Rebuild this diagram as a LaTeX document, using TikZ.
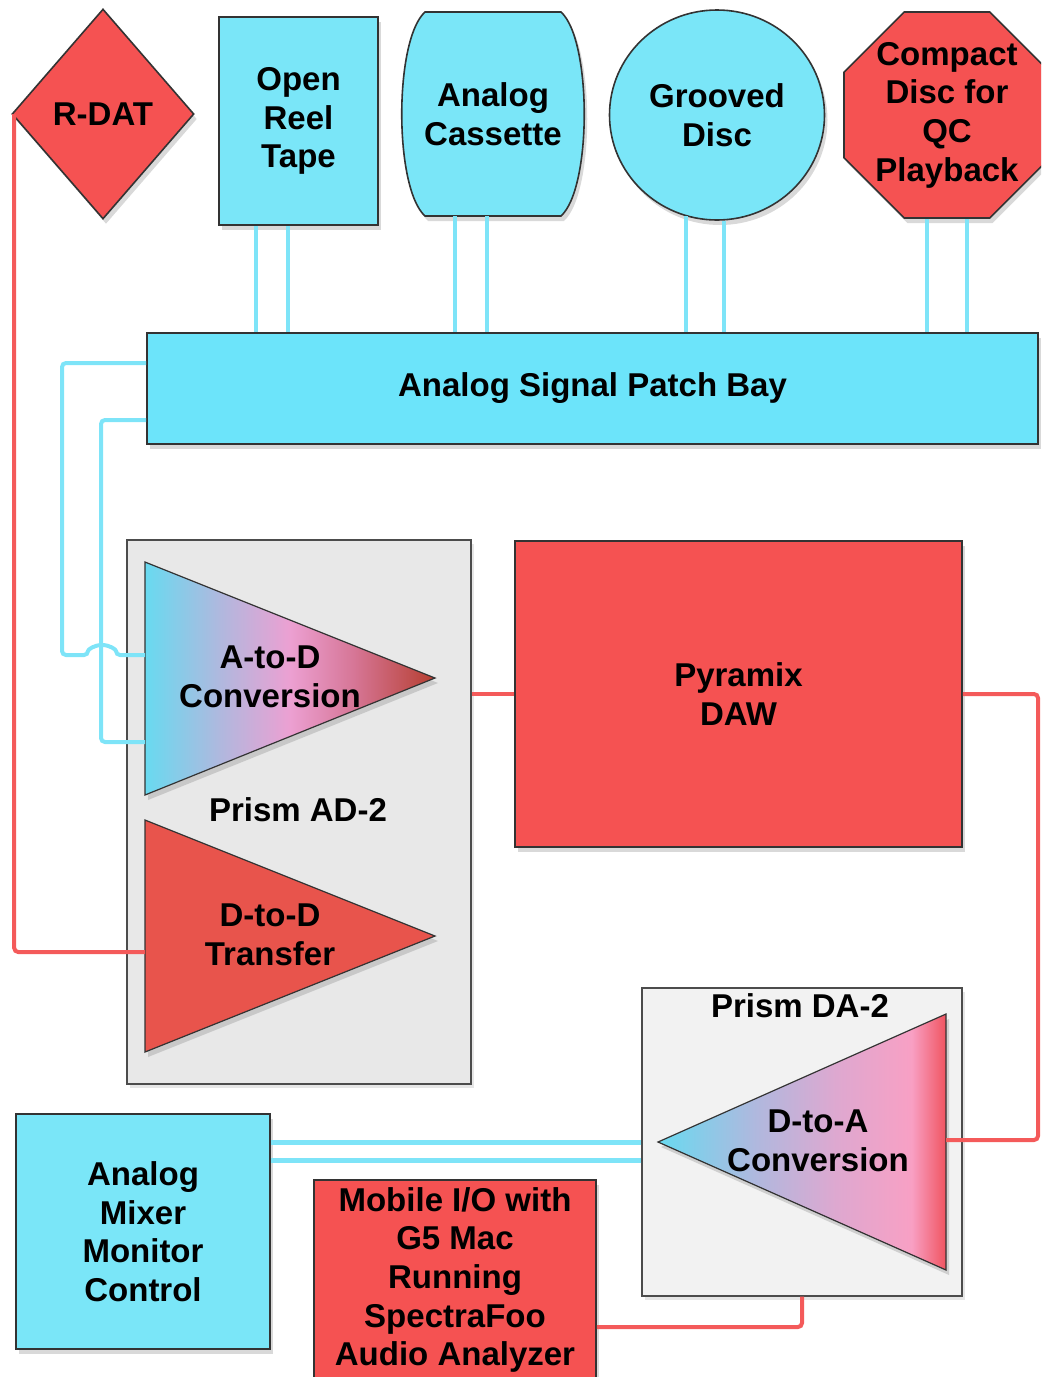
\documentclass[tikz,border=0pt]{standalone}
\usepackage{fontspec}
\setmainfont{Liberation Sans}
\usetikzlibrary{shapes.geometric,shadows}

\definecolor{srccyan}{RGB}{122,230,248}
\definecolor{baycyan}{RGB}{108,228,250}
\definecolor{srcred}{RGB}{245,82,82}
\definecolor{xferred}{RGB}{232,84,76}
\definecolor{wirecyan}{RGB}{126,228,248}
\definecolor{wirered}{RGB}{244,90,90}
\definecolor{adboxgray}{RGB}{232,232,232}
\definecolor{daboxgray}{RGB}{242,242,242}
\definecolor{shcyan}{RGB}{104,218,240}
\definecolor{shlav}{RGB}{176,184,222}
\definecolor{shpink}{RGB}{236,160,210}
\definecolor{shrose}{RGB}{214,118,150}
\definecolor{shbrown}{RGB}{182,62,48}
\definecolor{shmauve}{RGB}{222,168,208}
\definecolor{shhot}{RGB}{248,160,196}
\definecolor{shred}{RGB}{240,84,96}

\pgfdeclarehorizontalshading{atodshade}{100bp}{color(0bp)=(shcyan); color(25bp)=(shcyan); color(38bp)=(shlav); color(50bp)=(shpink); color(61bp)=(shrose); color(75bp)=(shbrown); color(100bp)=(shbrown)}
\pgfdeclarehorizontalshading{dtoashade}{100bp}{color(0bp)=(shcyan); color(25bp)=(shcyan); color(42bp)=(shlav); color(56bp)=(shmauve); color(69bp)=(shhot); color(75bp)=(shred); color(100bp)=(shred)}

\begin{document}
\begin{tikzpicture}[
  x=0.5pt,y=-0.5pt,
  txt/.style={font=\fontsize{16.5}{19.3}\selectfont\bfseries,align=center},
  unit/.style={txt,draw=black!80,line width=0.8pt,inner sep=0pt,
    drop shadow={opacity=0.3,shadow xshift=1.5pt,shadow yshift=-2.5pt}},
  analog/.style={unit,fill=srccyan},
  digital/.style={unit,fill=srcred},
  rack/.style={draw=black!70,line width=0.7pt,inner sep=0pt,
    drop shadow={opacity=0.2,shadow xshift=1.5pt,shadow yshift=-2pt}},
  amp/.style={draw=black!80,line width=0.6pt,
    drop shadow={opacity=0.3,shadow xshift=1.5pt,shadow yshift=-2.5pt}},
  cyanwire/.style={draw=wirecyan,line width=2pt,rounded corners=2pt},
  redwire/.style={draw=wirered,line width=2pt,rounded corners=2pt}
]
  \useasboundingbox (0,0) rectangle (1041,1377);
  \clip (0,0) rectangle (1041,1377);

  % sources
  \node[digital,diamond,minimum width=91pt,minimum height=105pt] (rdat) at (103,114) {R-DAT};
  \node[analog,rectangle,minimum width=79.5pt,minimum height=104pt] (reel) at (298.5,121) {Open\\Reel\\Tape};
  \path[analog] (425,12) -- (561,12) .. controls (592,40) and (592,188) .. (561,216)
    -- (425,216) .. controls (394,188) and (394,40) .. (425,12) -- cycle;
  \node[txt,minimum width=68pt,minimum height=102pt,inner sep=0pt] (cassette) at (493,114) {Analog\\Cassette};
  \node[analog,ellipse,minimum width=107.5pt,minimum height=105pt] (disc) at (717,115) {Grooved\\Disc};
  \node[digital,regular polygon,regular polygon sides=8,minimum size=111pt] (cdqc) at (947,115)
        {Compact\\Disc for\\QC\\Playback};

  \node[unit,fill=baycyan,minimum width=445.5pt,minimum height=55.5pt] (bay) at (592.5,388.5)
        {Analog Signal Patch Bay};

  % Prism AD-2
  \node[rack,fill=adboxgray,minimum width=172pt,minimum height=272pt] (adbox) at (299,812) {};
  \shade[amp,shading=atodshade] (145,562) -- (435,678) -- (145,795) -- cycle;
  \path[amp,fill=xferred] (145,820) -- (435,936) -- (145,1052) -- cycle;
  \coordinate (atodbase) at (145,678);
  \coordinate (dtodbase) at (145,936);
  \node[txt] (atodtxt) at (270,677) {A-to-D\\Conversion};
  \node[txt] (dtodtxt) at (270,935) {D-to-D\\Transfer};
  \node[txt] (adlabel) at (298,810) {Prism AD-2};

  \node[digital,minimum width=223.5pt,minimum height=153pt] (pyramix) at (738.5,694) {Pyramix\\DAW};

  % Prism DA-2
  \node[rack,fill=daboxgray,minimum width=160pt,minimum height=154pt] (dabox) at (802,1142) {};
  \shade[amp,shading=dtoashade] (946,1014) -- (658,1142) -- (946,1270) -- cycle;
  \coordinate (dtoabase) at (946,1142);
  \node[txt] (dtoatxt) at (818,1141) {D-to-A\\Conversion};
  \node[txt] (dalabel) at (800,1006) {Prism DA-2};

  \node[analog,minimum width=127pt,minimum height=117.5pt] (mixer) at (143,1231.5)
        {Analog\\Mixer\\Monitor\\Control};
  \node[digital,minimum width=141pt,minimum height=100pt] (mobile) at (455,1280)
        {Mobile I/O with\\G5 Mac\\Running\\SpectraFoo\\Audio Analyzer};

  % wiring
  \foreach \src/\x in {reel/256,reel/288,cassette/455,cassette/487,cdqc/927,cdqc/967}
    \draw[cyanwire] (\src.south -| \x,0) -- (bay.north -| \x,0);
  \draw[cyanwire] (disc.253) -- (disc.253 |- bay.north);
  \draw[cyanwire] (disc.274) -- (disc.274 |- bay.north);

  \draw[cyanwire] (bay.west |- 0,363) -| (62,655) -- (88,655)
    arc[start angle=180,end angle=0,x radius=7pt,y radius=5pt] -- (atodbase |- 0,655);
  \draw[cyanwire] (bay.west |- 0,420) -| (101,742) -- (atodbase |- 0,742);

  \draw[redwire] ([xshift=1.5pt]rdat.west) |- (dtodbase |- 0,952);
  \draw[redwire] (adbox.east |- pyramix.west) -- (pyramix.west);
  \draw[redwire] (pyramix.east) -| (1038,1140) -- (dtoabase |- 0,1140);

  \foreach \y in {1142,1160}
    \draw[cyanwire,line width=2.5pt] (dabox.west |- 0,\y) -- (mixer.east |- 0,\y);
  \draw[redwire] (mobile.east |- 0,1327) -| (dabox.south);
\end{tikzpicture}
\end{document}
